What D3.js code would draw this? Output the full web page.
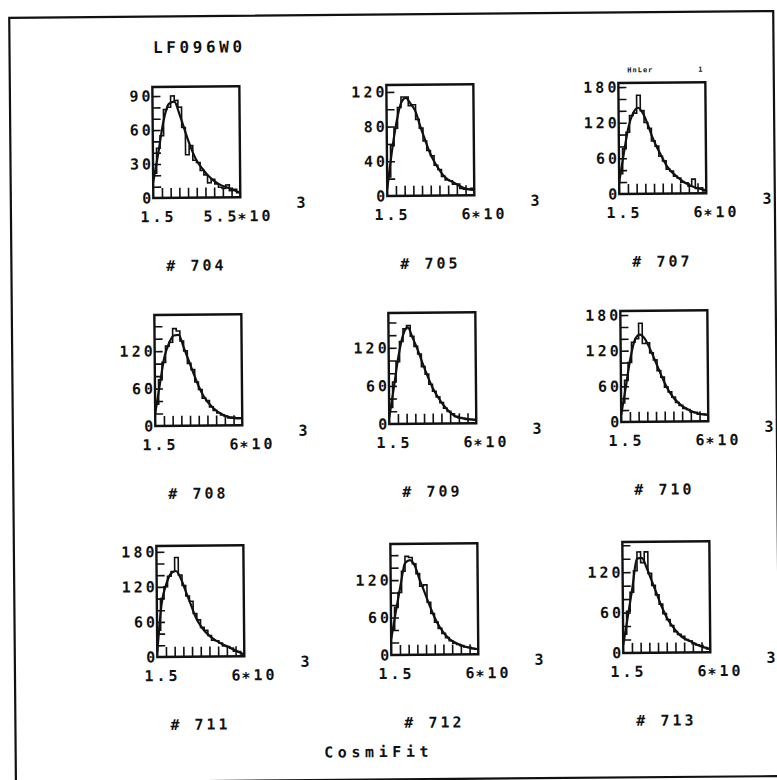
<!DOCTYPE html>
<html>
<head>
<meta charset="utf-8">
<script src="https://cdn.jsdelivr.net/npm/d3@7"></script>
<style>
  body { margin: 0; background: #fff; }
  svg text { font-family: "DejaVu Sans Mono", monospace; font-weight: bold; fill: #111; }
  .tick-label text, text.lbl { font-size: 15px; letter-spacing: 3px; }
</style>
</head>
<body>
<svg id="chart" width="777" height="780"></svg>
<script>
// ---- data -------------------------------------------------------------
const runIds = ["704", "705", "707", "708", "709", "710", "711", "712", "713"];
const xMin = 1.5;                                   // x in units of 10^3
const xMaxes = [5.5, 6, 6, 6, 6, 6, 6, 6, 6];
const xEndLabels = ["5.5", "6", "6", "6", "6", "6", "6", "6", "6"];
const yMaxes = [98, 128, 187, 178, 175, 187, 190, 178, 165];
const yTickLabels = [
  [0, 30, 60, 90], [0, 40, 80, 120], [0, 60, 120, 180],
  [0, 60, 120], [0, 60, 120], [0, 60, 120, 180],
  [0, 60, 120, 180], [0, 60, 120], [0, 60, 120]
];
const yMinorSteps = [10, 20, 20, 20, 20, 20, 20, 20, 20];

// fitted curve, sampled at fitX
const fitX = [1.5, 1.75, 2, 2.25, 2.5, 2.75, 3, 3.25, 3.5, 3.75, 4, 4.5, 5, 5.5, 6];
const fit704 = [14, 40, 68, 83, 85, 73, 58, 44, 33, 26, 20, 12, 8, 4];
const fit705 = [8, 50, 84, 107, 113, 106, 97, 79, 63, 48, 37, 21, 14, 8, 6];
const fit707 = [20, 68, 112, 136, 145, 136, 117, 94, 76, 60, 45, 28, 16, 9, 5];
const fit708 = [20, 66, 110, 133, 145, 146, 126, 105, 84, 64, 48, 28, 17, 12, 11];
const fit709 = [10, 57, 106, 140, 152, 135, 117, 95, 75, 57, 43, 22, 10, 7, 5];
const fit710 = [12, 59, 107, 139, 147, 140, 124, 105, 85, 66, 50, 30, 19, 13, 11];
const fit711 = [8, 92, 125, 143, 147, 134, 112, 90, 68, 53, 42, 28, 19, 11, 3];
const fit712 = [25, 69, 110, 147, 152, 143, 120, 100, 79, 60, 45, 25, 16, 11, 8];
const fit713 = [12, 54, 97, 140, 141, 126, 107, 88, 69, 53, 41, 24, 16, 9, 5];

// histogram counts, 24 equal bins over each x range
const counts704 = [22, 44, 55, 78, 80, 90, 86, 80, 62, 38, 46, 33, 31, 24, 20, 13, 16, 12, 9, 8, 11, 6, 7, 4];
const counts705 = [22, 58, 78, 102, 114, 114, 104, 105, 88, 78, 63, 52, 46, 35, 30, 22, 18, 17, 13, 13, 8, 7, 7, 8];
const counts707 = [34, 76, 104, 132, 136, 166, 140, 120, 110, 89, 80, 63, 55, 41, 38, 29, 26, 19, 18, 12, 24, 8, 9, 4];
const counts708 = [35, 74, 102, 128, 134, 156, 152, 136, 120, 100, 90, 70, 58, 44, 40, 30, 24, 20, 17, 15, 12, 13, 11, 12];
const counts709 = [26, 66, 98, 130, 150, 155, 138, 122, 110, 90, 78, 62, 51, 42, 33, 24, 19, 15, 11, 9, 8, 6, 6, 6];
const counts710 = [32, 70, 100, 134, 140, 166, 132, 133, 116, 104, 86, 75, 58, 50, 41, 32, 27, 22, 20, 16, 15, 12, 12, 11];
const counts711 = [46, 100, 120, 138, 146, 170, 140, 122, 104, 95, 74, 63, 50, 45, 36, 28, 27, 23, 18, 17, 14, 9, 8, 4];
const counts712 = [40, 76, 100, 134, 158, 156, 146, 130, 110, 112, 84, 66, 52, 42, 34, 27, 22, 18, 16, 14, 12, 11, 9, 8];
const counts713 = [28, 62, 90, 122, 150, 134, 150, 118, 100, 86, 72, 58, 49, 40, 31, 27, 24, 19, 17, 13, 11, 10, 7, 5];

const fits = [fit704, fit705, fit707, fit708, fit709, fit710, fit711, fit712, fit713];
const counts = [counts704, counts705, counts707, counts708, counts709, counts710, counts711, counts712, counts713];

// ---- layout -----------------------------------------------------------
const colX = [155, 389, 621];
const rowY = [85, 313, 544];
const panelW = 87, panelH = 111;
const ink = "#111";

const svg = d3.select("#chart");
// the whole sheet sits slightly askew on the page
const sheet = svg.append("g").attr("transform", "rotate(-0.5 388 390)");

sheet.append("rect")
  .attr("x", 12.5).attr("y", 14.5).attr("width", 764).attr("height", 765)
  .attr("fill", "none").attr("stroke", ink).attr("stroke-width", 2.2);

sheet.append("text").attr("class", "lbl")
  .attr("x", 156).attr("y", 51)
  .style("font-size", "16px").style("letter-spacing", "3.6px")
  .text("LF096W0");

sheet.append("text")
  .attr("x", 630).attr("y", 74.5)
  .style("font-size", "7px").style("letter-spacing", "1px")
  .text("HnLer");
sheet.append("text")
  .attr("x", 701).attr("y", 74.5)
  .style("font-size", "7px")
  .text("1");

sheet.append("text").attr("class", "lbl")
  .attr("x", 321).attr("y", 757)
  .style("letter-spacing", "4.6px")
  .text("CosmiFit");

runIds.forEach((id, i) => {
  const c = i % 3, r = Math.floor(i / 3);
  const left = colX[c], top = rowY[r];
  const right = left + panelW, bottom = top + panelH;
  const xMax = xMaxes[i];

  const x = d3.scaleLinear().domain([xMin, xMax]).range([left, right]);
  const y = d3.scaleLinear().domain([0, yMaxes[i]]).range([bottom, top]);
  const pg = sheet.append("g");

  // histogram as a stepped outline
  const nb = counts[i].length;
  const edges = d3.range(nb + 1).map(k => xMin + k * (xMax - xMin) / nb);
  const steps = counts[i].map((v, k) => [edges[k], v]);
  steps.push([edges[nb], counts[i][nb - 1]]);
  pg.append("path")
    .attr("d", d3.line().x(d => x(d[0])).y(d => y(d[1])).curve(d3.curveStepAfter)(steps))
    .attr("fill", "none").attr("stroke", ink).attr("stroke-width", 1.6);

  // fitted curve
  const fitPts = fits[i].map((v, k) => [fitX[k], v]);
  pg.append("path")
    .attr("d", d3.line().x(d => x(d[0])).y(d => y(d[1])).curve(d3.curveMonotoneX)(fitPts))
    .attr("fill", "none").attr("stroke", ink).attr("stroke-width", 2.2);

  // inward minor ticks on the left edge
  const yMinor = d3.range(yMinorSteps[i], yMaxes[i], yMinorSteps[i]);
  pg.append("g")
    .attr("transform", `translate(${left},0)`)
    .call(d3.axisRight(y).tickValues(yMinor).tickSize(8).tickFormat(""))
    .call(g => g.select(".domain").remove())
    .selectAll("line").attr("stroke", ink).attr("stroke-width", 1.6);

  // inward minor ticks on the bottom edge
  const xMinor = d3.range(1, 10).map(k => xMin + k * (xMax - xMin) / 10);
  pg.append("g")
    .attr("transform", `translate(0,${bottom})`)
    .call(d3.axisTop(x).tickValues(xMinor).tickSize(10).tickFormat(""))
    .call(g => g.select(".domain").remove())
    .selectAll("line").attr("stroke", ink).attr("stroke-width", 1.6);

  // y labels
  pg.append("g").attr("class", "tick-label")
    .attr("transform", `translate(${left + 1},0)`)
    .call(d3.axisLeft(y).tickValues(yTickLabels[i]).tickSize(0).tickPadding(0))
    .call(g => g.select(".domain").remove());

  // frame
  pg.append("rect")
    .attr("x", left).attr("y", top).attr("width", panelW).attr("height", panelH)
    .attr("fill", "none").attr("stroke", ink).attr("stroke-width", 2.4);

  // x labels
  pg.append("text").attr("class", "lbl")
    .attr("x", x(xMin) - 13).attr("y", bottom + 24)
    .text("1.5");
  pg.append("text").attr("class", "lbl")
    .attr("x", x(xMax) - 1).attr("y", bottom + 24)
    .attr("text-anchor", "end")
    .text(xEndLabels[i]);
  pg.append("text").attr("class", "lbl")
    .attr("x", right - 3).attr("y", bottom + 24)
    .text("\u221710");
  pg.append("text").attr("class", "lbl")
    .attr("x", right + 56).attr("y", bottom + 11)
    .text("3");

  // run number
  pg.append("text").attr("class", "lbl")
    .attr("x", left + panelW / 2 - 1).attr("y", bottom + 73)
    .attr("text-anchor", "middle")
    .text("# " + id);
});
</script>
</body>
</html>
